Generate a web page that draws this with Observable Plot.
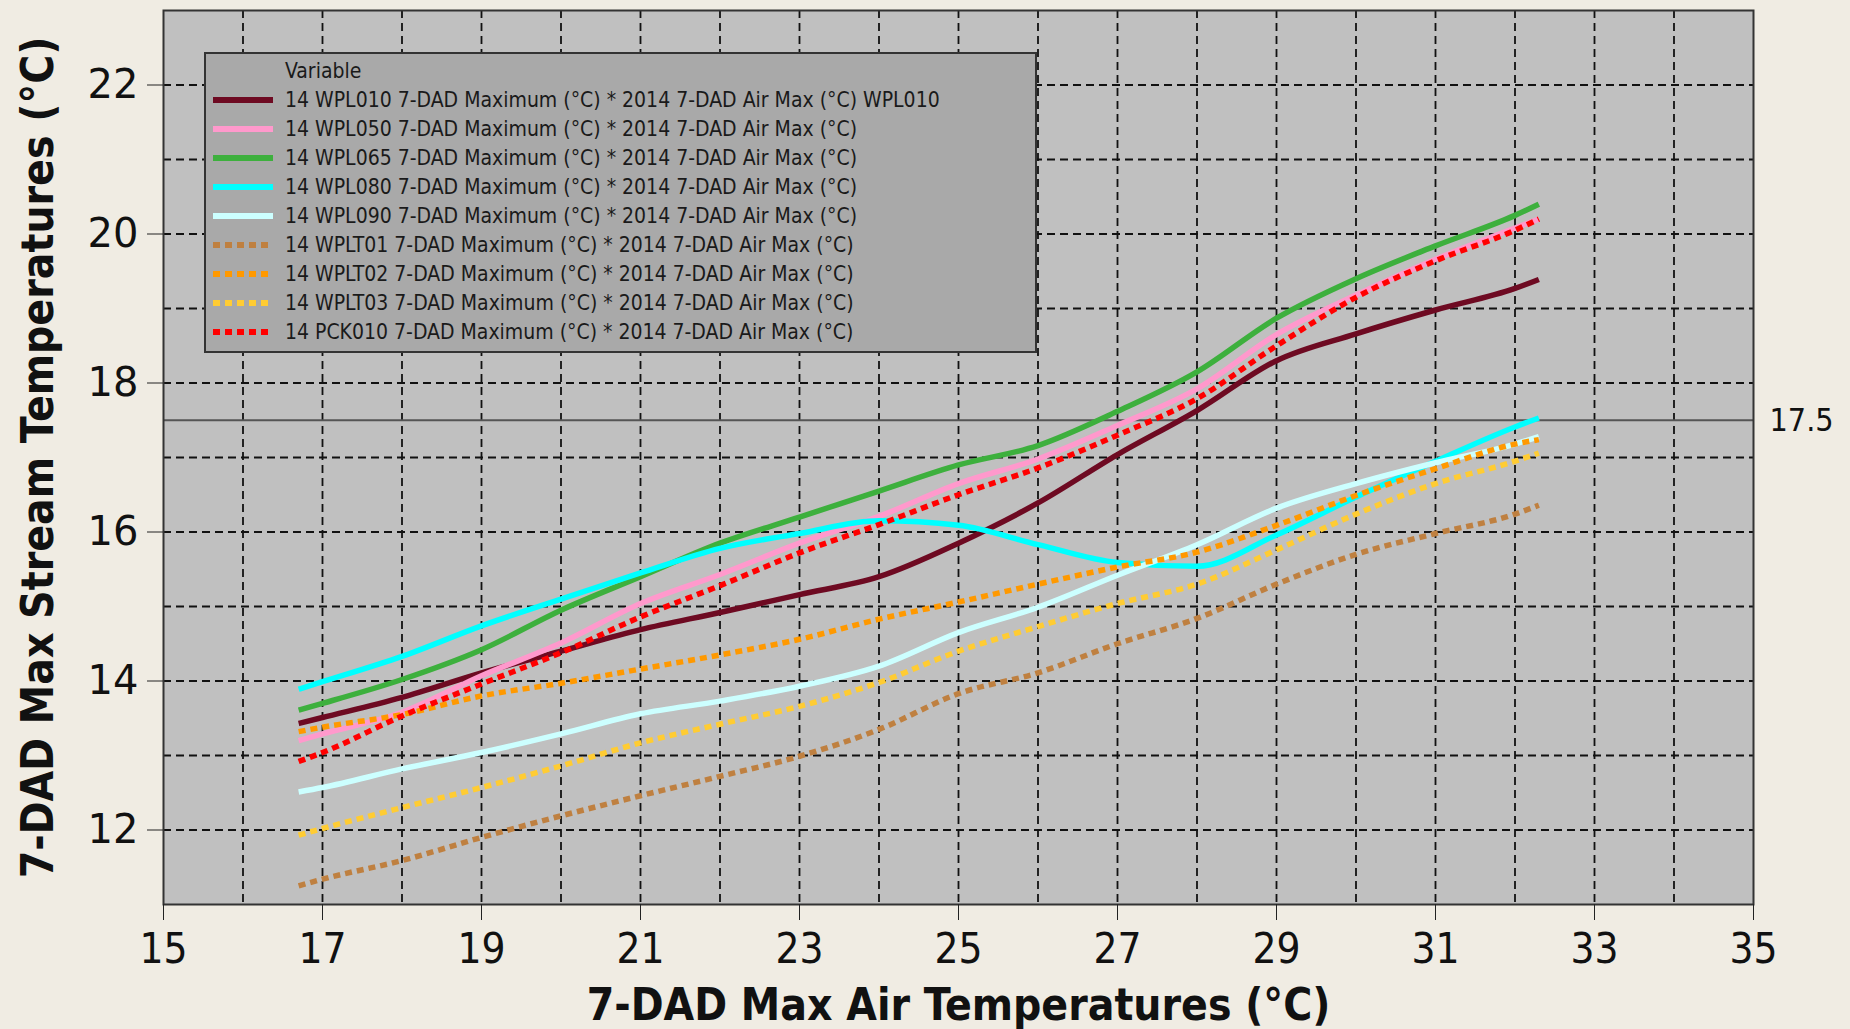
<!DOCTYPE html>
<html>
<head>
<meta charset="utf-8">
<script src="https://cdn.jsdelivr.net/npm/d3@7"></script>
<script src="https://cdn.jsdelivr.net/npm/@observablehq/plot@0.6"></script>
<style>
  html, body { margin: 0; padding: 0; background: #F0ECE3; }
  #chart { width: 1850px; height: 1029px; overflow: hidden; }
  svg { display: block; }
</style>
</head>
<body>
<div id="chart"></div>
<script>
// ---- data ----
const airTemps = [16.7, 17, 18, 19, 20, 21, 22, 23, 24, 25, 26, 27, 28, 29, 30, 31, 32, 32.3];
const wpl010 = [13.43, 13.51, 13.78, 14.11, 14.40, 14.69, 14.92, 15.16, 15.40, 15.85, 16.39, 17.04, 17.63, 18.30, 18.66, 18.98, 19.27, 19.39];
const wpl050 = [13.20, 13.29, 13.58, 14.07, 14.51, 15.04, 15.43, 15.85, 16.21, 16.65, 16.98, 17.43, 17.92, 18.65, 19.18, 19.66, 20.08, 20.20];
const wpl065 = [13.61, 13.70, 14.02, 14.42, 14.95, 15.40, 15.85, 16.20, 16.55, 16.90, 17.16, 17.62, 18.15, 18.87, 19.40, 19.84, 20.25, 20.40];
const wpl080 = [13.89, 13.99, 14.33, 14.74, 15.10, 15.45, 15.78, 15.98, 16.15, 16.09, 15.83, 15.59, 15.54, 15.96, 16.47, 16.95, 17.41, 17.53];
const wpl090 = [12.51, 12.57, 12.82, 13.04, 13.29, 13.56, 13.73, 13.93, 14.20, 14.65, 14.99, 15.42, 15.83, 16.32, 16.65, 16.93, 17.18, 17.28];
const wplt01 = [11.25, 11.34, 11.59, 11.90, 12.19, 12.46, 12.72, 12.99, 13.35, 13.83, 14.11, 14.50, 14.84, 15.30, 15.70, 15.98, 16.24, 16.36];
const wplt02 = [13.32, 13.38, 13.55, 13.80, 13.97, 14.16, 14.35, 14.56, 14.83, 15.06, 15.30, 15.53, 15.73, 16.09, 16.49, 16.85, 17.18, 17.24];
const wplt03 = [11.93, 12.02, 12.30, 12.57, 12.86, 13.17, 13.42, 13.66, 13.98, 14.40, 14.73, 15.04, 15.30, 15.76, 16.24, 16.65, 16.95, 17.06];
const pck010 = [12.92, 13.04, 13.53, 13.96, 14.38, 14.86, 15.28, 15.72, 16.10, 16.50, 16.86, 17.30, 17.79, 18.50, 19.15, 19.64, 20.05, 20.20];

const seriesNames = [
  "14 WPL010 7-DAD Maximum (°C) * 2014 7-DAD Air Max (°C) WPL010",
  "14 WPL050 7-DAD Maximum (°C) * 2014 7-DAD Air Max (°C)",
  "14 WPL065 7-DAD Maximum (°C) * 2014 7-DAD Air Max (°C)",
  "14 WPL080 7-DAD Maximum (°C) * 2014 7-DAD Air Max (°C)",
  "14 WPL090 7-DAD Maximum (°C) * 2014 7-DAD Air Max (°C)",
  "14 WPLT01 7-DAD Maximum (°C) * 2014 7-DAD Air Max (°C)",
  "14 WPLT02 7-DAD Maximum (°C) * 2014 7-DAD Air Max (°C)",
  "14 WPLT03 7-DAD Maximum (°C) * 2014 7-DAD Air Max (°C)",
  "14 PCK010 7-DAD Maximum (°C) * 2014 7-DAD Air Max (°C)"
];
const seriesValues = [wpl010, wpl050, wpl065, wpl080, wpl090, wplt01, wplt02, wplt03, pck010];
const seriesColors = ["#6E0A22", "#FF99CC", "#3DB03D", "#00FFFF", "#CCFFFF", "#BF8040", "#FF9900", "#FFCC33", "#FF0000"];
const seriesDashed = [false, false, false, false, false, true, true, true, true];

const xTicks = [15, 17, 19, 21, 23, 25, 27, 29, 31, 33, 35];
const yTicks = [12, 14, 16, 18, 20, 22];
const xGrid = d3.range(16, 35);
const yGrid = d3.range(12, 23);
const refLine = [17.5];
const legendTitle = "Variable";
const xLabel = "7-DAD Max Air Temperatures (°C)";
const yLabel = "7-DAD Max Stream Temperatures (°C)";

// ---- build table ----
const rows = [];
seriesNames.forEach((name, i) => {
  seriesValues[i].forEach((v, j) => rows.push({series: name, x: airTemps[j], y: v, idx: i}));
});

const condensed = "'DejaVu Sans Condensed', 'DejaVu Sans', sans-serif";

const lineMarks = seriesNames.map((name, i) =>
  Plot.line(rows.filter(d => d.idx === i), {
    x: "x", y: "y",
    stroke: seriesColors[i],
    strokeWidth: 5.5,
    strokeDasharray: seriesDashed[i] ? "7,5" : null,
    strokeLinecap: "butt",
    curve: "monotone-x"
  })
);

const plot = Plot.plot({
  width: 1850,
  height: 1029,
  marginLeft: 163,
  marginRight: 97,
  marginTop: 10,
  marginBottom: 125,
  style: {background: "transparent", overflow: "visible", fontFamily: "'DejaVu Sans', sans-serif"},
  x: {domain: [15, 35]},
  y: {domain: [11, 23]},
  marks: [
    Plot.frame({fill: "#C0C0C0"}),
    Plot.gridX(xGrid, {stroke: "#111", strokeOpacity: 1, strokeWidth: 1.8, strokeDasharray: "8,5"}),
    Plot.gridY(yGrid, {stroke: "#111", strokeOpacity: 1, strokeWidth: 1.8, strokeDasharray: "8,5"}),
    Plot.ruleY(refLine, {stroke: "#555", strokeWidth: 1.8}),
    ...lineMarks,
    Plot.frame({stroke: "#333", strokeWidth: 2}),
    Plot.text(refLine, {x: 35, y: d => d, text: d => String(d), dx: 16, textAnchor: "start", fontSize: 32, fontFamily: condensed, fill: "#111"}),
    Plot.axisX(xTicks, {tickSize: 16, tickPadding: 13, fontSize: 42, fontFamily: condensed, stroke: "#222", fill: "#111", label: null, tickFormat: d => String(d)}),
    Plot.axisY(yTicks, {tickSize: 16, tickPadding: 9, fontSize: 40, fontFamily: "'DejaVu Sans', sans-serif", stroke: "#222", fill: "#111", label: null, tickFormat: d => String(d)}),
    Plot.text([xLabel], {frameAnchor: "bottom", dy: 101, text: d => d, fontSize: 44, fontWeight: "bold", fontFamily: condensed, fill: "#111", lineAnchor: "middle", textAnchor: "middle"}),
    Plot.text([yLabel], {frameAnchor: "left", dx: -125, rotate: -90, text: d => d, fontSize: 44, fontWeight: "bold", fontFamily: condensed, fill: "#111", lineAnchor: "middle", textAnchor: "middle"})
  ]
});

// ---- legend (inside plot area, drawn on the same svg) ----
const svg = d3.select(plot);
const lg = svg.append("g").attr("class", "legend").attr("text-anchor", "start");
lg.append("rect").attr("x", 205).attr("y", 53).attr("width", 831).attr("height", 299)
  .attr("fill", "#A9A9A9").attr("stroke", "#333").attr("stroke-width", 2);
lg.append("text").attr("x", 285).attr("y", 78).text(legendTitle)
  .attr("text-anchor", "start")
  .attr("font-family", condensed).attr("font-size", 21).attr("fill", "#1a1a1a");
seriesNames.forEach((name, i) => {
  const cy = 100 + i * 29.0;
  lg.append("line").attr("x1", 213).attr("x2", 273).attr("y1", cy).attr("y2", cy)
    .attr("stroke", seriesColors[i]).attr("stroke-width", 6)
    .attr("stroke-dasharray", seriesDashed[i] ? "7,5" : null);
  lg.append("text").attr("x", 285).attr("y", cy + 7).text(name)
    .attr("text-anchor", "start")
    .attr("font-family", condensed).attr("font-size", 21).attr("fill", "#1a1a1a");
});

document.getElementById("chart").appendChild(plot);
</script>
</body>
</html>
